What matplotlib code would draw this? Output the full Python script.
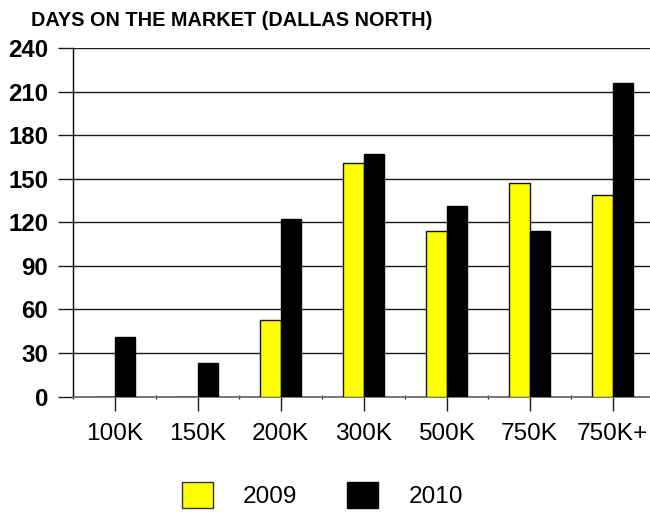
import matplotlib
matplotlib.use("Agg")
import matplotlib.pyplot as plt
from matplotlib.patches import Patch
import numpy as np

plt.rcParams['font.family'] = ['Liberation Sans', 'DejaVu Sans']

categories = ["100K", "150K", "200K", "300K", "500K", "750K", "750K+"]
days_2009 = [0, 0, 53, 161, 114, 147, 139]
days_2010 = [41, 23, 122, 167, 131, 114, 216]
series_labels = ["2009", "2010"]
y_ticks = [0, 30, 60, 90, 120, 150, 180, 210, 240]

W, H = 650, 512
fig = plt.figure(figsize=(W / 100, H / 100), dpi=100)
ax = fig.add_axes([73 / W, 115.5 / H, 581 / W, 348.5 / H])

x = np.arange(len(categories))
bw = 0.253
ax.bar(x - bw / 2, days_2009, width=bw, color="#ffff00", edgecolor="#111111",
       linewidth=1.0, zorder=3)
ax.bar(x + bw / 2, days_2010, width=bw, color="#000000", edgecolor="#000000",
       linewidth=1.0, zorder=3)

ax.set_xlim(-0.5, len(categories) - 0.5)
ax.set_ylim(0, 240)
ax.set_yticks(y_ticks)
ax.set_yticklabels([str(v) for v in y_ticks], fontsize=17.3, fontweight="bold")
ax.yaxis.grid(True, color="#1a1a1a", linewidth=1.0, zorder=0)
ax.set_axisbelow(True)

ax.set_xticks(x)
ax.set_xticklabels(categories, fontsize=17.6)
ax.set_xticks(np.arange(len(categories) + 1) - 0.5, minor=True)

ax.tick_params(axis="y", length=11, width=1.0, pad=7, color="#1a1a1a")
ax.tick_params(axis="x", which="major", length=10, width=1.0, pad=9,
               color="#1a1a1a")
ax.tick_params(axis="x", which="minor", length=3, width=1.0,
               direction="inout", color="#333333")

for side in ("top", "right"):
    ax.spines[side].set_visible(False)
ax.spines["left"].set_color("#000000")
ax.spines["left"].set_linewidth(1.0)
ax.spines["bottom"].set_color("#6e6e6e")
ax.spines["bottom"].set_linewidth(1.3)

fig.text(31.5 / W, 1 - 26 / H, "DAYS ON THE MARKET (DALLAS NORTH)",
         fontsize=14.3, fontweight="bold", ha="left", va="baseline")

handles = [Patch(facecolor="#ffff00", edgecolor="#333333", linewidth=1.0),
           Patch(facecolor="#000000", edgecolor="#000000", linewidth=1.0)]
fig.legend(handles, series_labels, loc="center", bbox_to_anchor=(0.496, 0.033),
           ncol=2, frameon=False, fontsize=17.6, handlelength=1.27,
           handleheight=1.27, handletextpad=1.23, columnspacing=2.05,
           borderpad=0.0)

fig.savefig("out.png", dpi=100)
